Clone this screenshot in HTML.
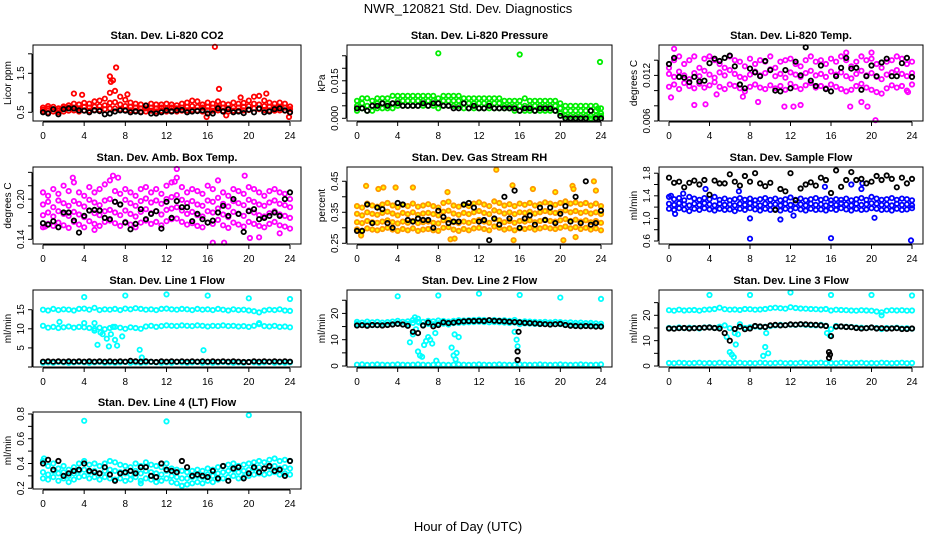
<!DOCTYPE html>
<html><head><meta charset="utf-8"><style>
body{margin:0;background:#fff}
svg{display:block;font-family:"Liberation Sans",sans-serif}
</style></head><body>
<svg id="chart" width="936" height="540" viewBox="0 0 936 540" xmlns="http://www.w3.org/2000/svg">
<rect width="936" height="540" fill="#fff"/>
<text x="468" y="13" text-anchor="middle" font-size="13">NWR_120821  Std. Dev. Diagnostics</text>
<text x="468" y="531" text-anchor="middle" font-size="13">Hour of Day (UTC)</text>
</svg>
<script>
const H=[0,0.5,1,1.5,2,2.5,3,3.5,4,4.5,5,5.5,6,6.5,7,7.5,8,8.5,9,9.5,10,10.5,11,11.5,12,12.5,13,13.5,14,14.5,15,15.5,16,16.5,17,17.5,18,18.5,19,19.5,20,20.5,21,21.5,22,22.5,23,23.5,24];
const xTicks=[0,4,8,12,16,20,24];

const co2A=[0.62,0.66,0.64,0.60,0.65,0.68,0.72,0.70,0.74,0.72,0.78,0.80,0.85,1.00,1.05,0.90,0.82,0.75,0.72,0.70,0.68,0.72,0.70,0.70,0.72,0.70,0.68,0.72,0.75,0.80,0.78,0.70,0.75,0.72,0.78,0.72,0.70,0.75,0.72,0.74,0.80,0.90,0.92,0.80,0.75,0.72,0.75,0.72,0.65];
const co2B=[0.57,0.60,0.58,0.55,0.60,0.62,0.62,0.60,0.64,0.62,0.65,0.66,0.68,0.74,0.76,0.70,0.66,0.64,0.62,0.60,0.60,0.62,0.60,0.62,0.60,0.62,0.60,0.62,0.64,0.66,0.64,0.62,0.64,0.62,0.64,0.62,0.60,0.62,0.62,0.64,0.66,0.72,0.70,0.66,0.64,0.62,0.64,0.62,0.58];
const co2C=[0.52,0.50,0.52,0.50,0.52,0.54,0.55,0.52,0.55,0.54,0.56,0.56,0.58,0.60,0.60,0.58,0.56,0.55,0.54,0.52,0.52,0.54,0.52,0.54,0.52,0.54,0.52,0.54,0.55,0.56,0.55,0.52,0.55,0.54,0.55,0.54,0.52,0.54,0.54,0.55,0.56,0.60,0.58,0.56,0.55,0.54,0.55,0.54,0.50];
const co2OutX=[3,3.8,6.5,6.6,6.8,7.1,8.2,15.9,16.7,17.1,19.2,21.7,23.9,17.8];
const co2OutY=[0.98,0.95,1.42,1.28,1.32,1.65,0.96,0.38,2.18,1.1,0.88,0.98,0.38,0.42];
const co2Blk=[0.50,0.47,0.58,0.45,0.58,0.60,0.60,0.55,0.54,0.50,0.55,0.53,0.45,0.47,0.52,0.55,0.54,0.50,0.52,0.50,0.67,0.47,0.47,0.50,0.55,0.52,0.55,0.56,0.50,0.52,0.53,0.55,0.47,0.47,0.60,0.52,0.58,0.50,0.52,0.48,0.57,0.50,0.60,0.50,0.52,0.58,0.60,0.55,0.50];
const co2Ticks=[0.5,1,1.5,2], co2Labels=["0.5","","1.5",""];

const prA=[0.007,0.008,0.008,0.007,0.008,0.008,0.008,0.009,0.009,0.009,0.009,0.009,0.009,0.009,0.009,0.009,0.008,0.009,0.009,0.009,0.009,0.008,0.008,0.008,0.008,0.008,0.008,0.008,0.008,0.007,0.007,0.007,0.007,0.008,0.007,0.007,0.007,0.007,0.007,0.007,0.006,0.005,0.005,0.005,0.005,0.005,0.005,0.005,0.004];
const prB=[0.005,0.006,0.005,0.005,0.006,0.006,0.006,0.006,0.007,0.007,0.007,0.007,0.007,0.007,0.007,0.007,0.006,0.007,0.007,0.007,0.007,0.006,0.006,0.006,0.006,0.006,0.006,0.006,0.006,0.005,0.005,0.005,0.005,0.005,0.005,0.005,0.005,0.005,0.005,0.005,0.004,0.003,0.003,0.003,0.003,0.003,0.003,0.003,0.002];
const prC=[0.003,0.004,0.003,0.003,0.004,0.004,0.004,0.004,0.005,0.005,0.005,0.005,0.005,0.005,0.005,0.005,0.004,0.005,0.005,0.005,0.005,0.004,0.004,0.004,0.004,0.004,0.004,0.004,0.004,0.004,0.004,0.003,0.003,0.003,0.003,0.003,0.003,0.003,0.003,0.003,0.002,0.001,0.001,0.001,0.001,0.001,0.001,0.001,0.001];
const prOutX=[8,16,23.9,23.7,20.5,21,21.5,22,22.5,23,23.5,24];
const prOutY=[0.026,0.0255,0.0225,0.004,0,0,0,0,0,0,0,0];
const prBlk=[0.004,0.004,0.003,0.005,0.005,0.006,0.005,0.006,0.006,0.005,0.005,0.005,0.005,0.006,0.005,0.006,0.006,0.005,0.005,0.004,0.004,0.006,0.004,0.005,0.004,0.004,0.005,0.004,0.004,0.004,0.004,0.004,0.003,0.004,0.004,0.003,0.004,0.004,0.004,0.003,0.001,0,0,0,0,0,0.003,0,0];
const prTicks=[0,0.005,0.01,0.015,0.02,0.025], prLabels=["0.000","","","0.015","",""];

const tmA=[0.0130,0.0140,0.0145,0.0135,0.0140,0.0145,0.0130,0.0142,0.0145,0.0140,0.0135,0.0130,0.0145,0.0140,0.0138,0.0132,0.0142,0.0135,0.0140,0.0138,0.0145,0.0130,0.0138,0.0140,0.0142,0.0135,0.0132,0.0140,0.0145,0.0138,0.0140,0.0135,0.0142,0.0138,0.0145,0.0140,0.0132,0.0138,0.0145,0.0140,0.0142,0.0135,0.0130,0.0138,0.0140,0.0145,0.0142,0.0135,0.0138];
const tmB=[0.0122,0.0118,0.0125,0.0120,0.0115,0.0123,0.0119,0.0126,0.0121,0.0117,0.0124,0.0120,0.0127,0.0122,0.0118,0.0116,0.0121,0.0125,0.0120,0.0123,0.0128,0.0119,0.0122,0.0117,0.0124,0.0121,0.0118,0.0123,0.0126,0.0120,0.0122,0.0118,0.0125,0.0121,0.0124,0.0119,0.0116,0.0122,0.0126,0.0120,0.0123,0.0118,0.0115,0.0121,0.0124,0.0127,0.0122,0.0119,0.0123];
const tmC=[0.0105,0.0108,0.0102,0.0110,0.0106,0.0103,0.0109,0.0104,0.0107,0.0111,0.0105,0.0102,0.0108,0.0106,0.0103,0.0099,0.0105,0.0108,0.0104,0.0102,0.0107,0.0103,0.0106,0.0101,0.0109,0.0105,0.0102,0.0107,0.0110,0.0104,0.0106,0.0103,0.0108,0.0105,0.0102,0.0099,0.0101,0.0106,0.0109,0.0104,0.0101,0.0098,0.0096,0.0103,0.0107,0.0104,0.0106,0.0100,0.0108];
const tmOutX=[0.2,0.5,2.5,3.6,4.7,7.3,8.8,11.4,12.3,13,17.5,17.9,19,19.6,20,20.4,23.6];
const tmOutY=[0.0091,0.0155,0.0081,0.0082,0.0095,0.0092,0.0085,0.0079,0.0079,0.0081,0.015,0.0079,0.0085,0.0079,0.015,0.0061,0.0098];
const tmBlk=[0.0135,0.0143,0.0118,0.0117,0.0111,0.0118,0.0112,0.0113,0.0136,0.0142,0.0139,0.0143,0.0146,0.0132,0.0108,0.0103,0.0129,0.0124,0.0119,0.0139,0.0127,0.0100,0.0099,0.0127,0.0103,0.0138,0.0120,0.0157,0.0113,0.0106,0.0133,0.0102,0.0099,0.0119,0.0130,0.0143,0.0129,0.0130,0.0101,0.0119,0.0133,0.0119,0.0137,0.0142,0.0119,0.0119,0.0136,0.0143,0.0118];
const tmTicks=[0.006,0.008,0.010,0.012,0.014], tmLabels=["0.006","","","0.012",""];

const ambA=[0.210,0.205,0.215,0.208,0.220,0.212,0.225,0.210,0.205,0.218,0.210,0.215,0.222,0.228,0.212,0.208,0.215,0.210,0.205,0.215,0.218,0.210,0.215,0.208,0.220,0.225,0.232,0.218,0.210,0.215,0.212,0.208,0.220,0.215,0.228,0.210,0.205,0.215,0.212,0.208,0.218,0.215,0.210,0.205,0.212,0.215,0.210,0.208,0.200];
const ambB=[0.192,0.196,0.188,0.198,0.194,0.190,0.197,0.193,0.189,0.199,0.195,0.191,0.198,0.200,0.196,0.192,0.199,0.194,0.190,0.197,0.201,0.195,0.198,0.193,0.200,0.203,0.206,0.199,0.194,0.197,0.192,0.190,0.198,0.196,0.202,0.193,0.189,0.197,0.194,0.191,0.199,0.196,0.192,0.190,0.195,0.198,0.193,0.191,0.188];
const ambC=[0.176,0.180,0.174,0.182,0.178,0.175,0.181,0.177,0.173,0.183,0.179,0.176,0.182,0.184,0.180,0.176,0.183,0.178,0.174,0.181,0.185,0.179,0.182,0.177,0.184,0.186,0.188,0.183,0.178,0.181,0.176,0.174,0.182,0.180,0.186,0.177,0.173,0.181,0.178,0.175,0.183,0.180,0.176,0.174,0.179,0.182,0.177,0.175,0.172];
const ambD=[0.158,0.163,0.160,0.165,0.161,0.157,0.166,0.162,0.158,0.167,0.163,0.160,0.166,0.168,0.164,0.160,0.166,0.162,0.158,0.165,0.168,0.163,0.166,0.161,0.167,0.170,0.171,0.166,0.162,0.164,0.160,0.158,0.165,0.163,0.169,0.161,0.157,0.165,0.162,0.159,0.166,0.163,0.160,0.158,0.163,0.166,0.161,0.159,0.156];
const ambOutX=[2.9,6.8,7.3,13,16.5,17.6,19.6,20.1,21,12.8,5,23,0.2];
const ambOutY=[0.232,0.235,0.232,0.245,0.135,0.135,0.235,0.142,0.143,0.226,0.154,0.149,0.159];
const ambBlk=[0.164,0.162,0.167,0.158,0.180,0.180,0.168,0.150,0.175,0.183,0.184,0.183,0.172,0.170,0.196,0.192,0.165,0.155,0.163,0.185,0.170,0.178,0.182,0.156,0.196,0.172,0.197,0.188,0.188,0.167,0.178,0.170,0.165,0.168,0.180,0.190,0.175,0.200,0.178,0.151,0.182,0.185,0.170,0.172,0.175,0.180,0.175,0.200,0.210];
const ambTicks=[0.14,0.16,0.18,0.20,0.22,0.24], ambLabels=["0.14","","","0.20","",""];

const rhA=[0.370,0.365,0.378,0.372,0.368,0.375,0.380,0.372,0.366,0.374,0.370,0.378,0.368,0.372,0.376,0.370,0.365,0.380,0.384,0.372,0.368,0.374,0.370,0.378,0.382,0.375,0.370,0.385,0.380,0.372,0.376,0.370,0.378,0.374,0.380,0.372,0.376,0.382,0.378,0.374,0.380,0.385,0.378,0.382,0.376,0.380,0.372,0.378,0.370];
const rhB=[0.345,0.340,0.350,0.345,0.342,0.348,0.352,0.346,0.340,0.348,0.344,0.350,0.342,0.346,0.348,0.344,0.340,0.352,0.355,0.346,0.342,0.348,0.344,0.350,0.354,0.348,0.344,0.356,0.352,0.346,0.350,0.344,0.350,0.348,0.352,0.346,0.350,0.354,0.350,0.348,0.352,0.356,0.350,0.354,0.348,0.352,0.346,0.350,0.344];
const rhC=[0.318,0.315,0.322,0.318,0.316,0.320,0.324,0.318,0.314,0.320,0.316,0.322,0.315,0.318,0.320,0.316,0.314,0.324,0.326,0.318,0.315,0.320,0.316,0.322,0.325,0.320,0.316,0.328,0.324,0.318,0.322,0.316,0.322,0.320,0.324,0.318,0.322,0.326,0.322,0.320,0.324,0.328,0.322,0.326,0.320,0.324,0.318,0.322,0.316];
const rhD=[0.295,0.290,0.298,0.294,0.292,0.296,0.300,0.294,0.290,0.296,0.292,0.298,0.290,0.294,0.296,0.292,0.290,0.300,0.302,0.294,0.290,0.296,0.292,0.298,0.300,0.296,0.292,0.304,0.300,0.294,0.298,0.292,0.298,0.296,0.300,0.294,0.298,0.302,0.298,0.296,0.300,0.304,0.298,0.302,0.296,0.300,0.294,0.298,0.292];
const rhOutX=[0.9,2.1,2.6,3.8,5.5,8.9,9.2,13.7,15.3,15.4,17.3,19.5,20.3,21.2,21.5,23.3,23.5,0.4,9.6,21.3];
const rhOutY=[0.435,0.425,0.43,0.43,0.43,0.415,0.263,0.487,0.437,0.26,0.425,0.415,0.26,0.435,0.27,0.45,0.42,0.275,0.265,0.425];
const rhBlk=[0.290,0.290,0.375,0.315,0.365,0.360,0.315,0.300,0.380,0.375,0.325,0.320,0.330,0.325,0.325,0.300,0.355,0.335,0.315,0.320,0.320,0.375,0.380,0.365,0.320,0.325,0.260,0.330,0.310,0.400,0.330,0.420,0.300,0.330,0.340,0.310,0.365,0.325,0.365,0.315,0.345,0.370,0.320,0.400,0.315,0.450,0.310,0.315,0.355];
const rhTicks=[0.25,0.30,0.35,0.40,0.45], rhLabels=["0.25","","0.35","","0.45"];

const sfA=[1.38,1.34,1.36,1.32,1.38,1.35,1.33,1.36,1.34,1.38,1.33,1.35,1.32,1.34,1.36,1.33,1.35,1.32,1.34,1.36,1.33,1.35,1.32,1.34,1.37,1.33,1.35,1.32,1.34,1.36,1.33,1.35,1.32,1.34,1.33,1.35,1.32,1.34,1.36,1.33,1.38,1.35,1.33,1.34,1.36,1.33,1.35,1.34,1.32];
const sfB=[1.26,1.24,1.27,1.25,1.23,1.26,1.24,1.27,1.25,1.23,1.26,1.24,1.25,1.23,1.26,1.24,1.27,1.25,1.23,1.26,1.24,1.25,1.23,1.26,1.24,1.27,1.25,1.23,1.26,1.24,1.25,1.23,1.26,1.24,1.27,1.25,1.23,1.26,1.24,1.25,1.27,1.26,1.24,1.25,1.23,1.26,1.24,1.25,1.23];
const sfC=[1.17,1.15,1.18,1.16,1.13,1.17,1.15,1.18,1.16,1.14,1.17,1.15,1.16,1.13,1.17,1.15,1.18,1.16,1.14,1.17,1.15,1.16,1.14,1.17,1.15,1.18,1.16,1.14,1.17,1.15,1.16,1.14,1.17,1.15,1.18,1.16,1.14,1.17,1.15,1.16,1.18,1.17,1.15,1.16,1.14,1.17,1.15,1.16,1.18];
const sfOutX=[0.6,3.6,6.9,8,8,11,12.3,15.4,16,18,19,19.1,20.3,23.9,1.4,0.2];
const sfOutY=[1.08,1.52,1.48,1.0,0.64,0.98,1.05,1.56,0.65,1.6,1.52,1.62,1.01,0.61,1.44,1.4];
const sfBlk=[1.72,1.63,1.65,1.55,1.63,1.67,1.60,1.68,1.42,1.67,1.62,1.62,1.78,1.65,1.58,1.75,1.65,1.80,1.62,1.57,1.63,1.15,1.52,1.48,1.80,1.32,1.53,1.60,1.64,1.58,1.72,1.68,1.45,1.85,1.56,1.68,1.82,1.68,1.70,1.62,1.65,1.75,1.68,1.76,1.70,1.55,1.72,1.62,1.70];
const sfTicks=[0.6,0.8,1.0,1.2,1.4,1.6,1.8], sfLabels=["0.6","","1.0","","1.4","","1.8"];

const l1A=[15.0,14.8,15.2,14.9,15.1,15.0,14.8,15.2,15.3,15.0,15.5,14.9,15.1,15.0,15.2,14.9,15.3,15.1,15.4,15.2,15.0,15.1,14.9,15.2,15.3,15.1,15.0,15.2,15.1,14.9,15.2,15.0,15.1,14.9,15.2,15.0,14.8,15.1,14.9,15.0,14.8,14.6,14.3,14.8,15.0,14.9,15.1,14.8,14.7];
const l1B=[10.8,10.3,10.5,10.2,10.4,10.6,10.3,10.5,10.4,10.2,10.0,10.3,9.9,10.2,10.5,10.3,10.0,10.4,10.2,10.0,10.6,10.8,10.5,10.7,10.9,10.8,10.7,10.9,10.8,10.7,10.9,10.8,10.6,10.8,10.7,10.9,10.7,10.8,10.6,10.7,10.5,10.8,11.2,10.7,10.6,10.8,10.5,10.6,10.4];
const l1C=[1.1,1.2,1.1,1.3,1.2,1.1,1.2,1.3,1.2,1.1,1.2,1.3,1.1,1.2,1.1,1.2,1.3,1.1,1.2,1.1,1.2,1.3,1.2,1.1,1.2,1.1,1.3,1.2,1.1,1.2,1.3,1.1,1.2,1.1,1.2,1.3,1.2,1.1,1.2,1.1,1.3,1.2,1.1,1.2,1.3,1.1,1.2,1.1,1.2];
const l1OutX=[4,8,12,16,20,24,1.6,5,5.3,5.6,5.8,6.2,6.4,6.6,7,7.2,7.7,6.8,9.4,9.6,15.6,4,5,21];
const l1OutY=[18.3,18.7,19,18.7,18,17.8,11.8,11.5,5.8,9,8.6,7.4,5.4,8.6,7.1,5.6,8,10.5,4.5,2.5,4.4,11.5,9.5,11.5];
const l1Blk=[1.4,1.5,1.4,1.5,1.4,1.5,1.4,1.5,1.4,1.5,1.4,1.5,1.4,1.5,1.4,1.5,1.4,1.6,1.5,1.4,1.5,1.4,1.3,1.5,1.4,1.5,1.4,1.5,1.4,1.5,1.4,1.5,1.4,1.5,1.4,1.5,1.4,1.5,1.4,1.3,1.3,1.5,1.4,1.5,1.4,1.5,1.4,1.5,1.4];
const l1Ticks=[0,5,10,15], l1Labels=["","5","10","15"];

const l2A=[16.8,16.5,16.9,16.6,16.8,16.5,16.7,16.9,17.2,16.8,17.0,17.5,18.0,16.8,17.2,17.0,17.3,17.1,16.9,17.2,17.4,17.3,17.4,17.5,17.6,17.5,17.4,17.5,17.3,17.4,17.2,17.5,16.8,17.0,16.9,16.8,16.7,16.8,16.6,16.8,16.7,16.5,16.6,16.4,16.5,16.3,16.4,16.2,16.1];
const l2B=[16.0,15.6,15.8,15.5,15.7,15.6,15.8,15.9,16.2,15.8,16.0,16.4,16.8,15.6,16.0,15.9,16.2,16.1,15.8,16.3,16.4,16.5,16.6,16.7,16.8,16.7,16.6,16.7,16.6,16.5,16.4,16.5,15.9,16.2,16.1,16.0,15.9,16.0,15.8,15.9,15.9,15.6,15.7,15.5,15.6,15.4,15.5,15.3,15.2];
const l2C=[0.5,0.6,0.4,0.5,0.6,0.5,0.4,0.5,0.6,0.5,0.4,0.5,0.6,0.5,0.4,0.5,0.6,0.5,0.4,0.5,0.6,0.5,0.4,0.5,0.6,0.5,0.4,0.5,0.6,0.5,0.4,0.5,0.6,0.5,0.4,0.5,0.6,0.5,0.4,0.5,0.6,0.5,0.4,0.5,0.6,0.5,0.4,0.5,0.6];
const l2OutX=[4,8,12,16,20,24,5.2,5.5,5.8,6,6.2,6.4,6.6,6.8,7,7.2,7.4,7.7,9.3,9.5,9.6,9.7,9.8,10,15.5,15.7,15.8,5.7,6.1,7.8];
const l2OutY=[26.5,26.8,27.5,27,26,25.5,9,12,14,5.5,4,3.5,8,9.5,11,10,8.5,12.5,7,4,12,2.5,5,11,13,10,7.5,18.5,16.5,2];
const l2Blk=[15.4,15.5,15.3,15.6,15.5,15.4,15.6,15.8,16.0,15.8,15.3,13.0,12.5,15.4,16.5,15.1,15.6,16.6,16.3,16.5,16.8,17.0,17.1,17.1,17.2,17.1,17.4,17.2,17.1,17.0,16.8,16.7,16.6,16.4,16.3,16.2,16.0,15.9,15.8,15.9,16.0,15.6,15.3,15.2,15.1,15.2,15.1,15.0,15.0];
const l2BlkOutX=[15.8,15.8,15.9], l2BlkOutY=[2.3,5.5,13.0];
const l2Ticks=[0,5,10,15,20,25], l2Labels=["0","","10","","20",""];

const l3A=[22.0,21.8,22.2,21.9,22.0,22.1,21.8,22.2,22.3,22.5,23.0,22.4,22.2,22.3,22.1,22.5,22.4,22.2,22.3,22.5,22.8,23.0,22.8,22.6,23.2,22.9,22.7,22.6,22.5,22.4,22.3,22.5,21.9,22.2,22.1,22.0,21.9,21.8,22.0,21.9,21.8,21.5,21.2,21.8,22.0,21.9,22.0,21.8,21.9];
const l3B=[15.0,14.8,15.2,14.9,15.1,15.0,14.8,15.2,15.3,15.0,15.5,16.0,14.9,13.0,16.5,15.0,15.3,15.6,15.4,15.5,15.8,16.0,16.2,16.1,16.3,16.2,16.4,16.2,16.1,16.0,16.2,15.9,14.5,15.8,15.6,15.5,15.4,15.2,15.1,15.0,15.2,15.0,14.6,15.0,14.9,15.1,14.8,14.9,14.7];
const l3C=[1.2,1.1,1.3,1.2,1.1,1.2,1.3,1.1,1.2,1.1,1.3,1.2,1.1,1.2,1.3,1.1,1.2,1.1,1.3,1.2,1.1,1.2,1.3,1.1,1.2,1.1,1.3,1.2,1.1,1.2,1.3,1.1,1.2,1.1,1.3,1.2,1.1,1.2,1.3,1.1,1.2,1.1,1.3,1.2,1.1,1.2,1.3,1.1,1.2];
const l3OutX=[4,8,12,16,20,24,5.7,6,6.2,6.4,6.6,6.8,9.3,9.5,9.6,9.8,15.6,15.9,21];
const l3OutY=[28,28,29,28,28,27.8,11.5,5.5,4.5,3.5,8.5,12.5,4,7.5,13,5,13,12,20];
const l3Blk=[14.8,14.7,14.9,15.0,14.8,14.9,15.0,15.1,15.2,15.0,14.8,13.0,10.0,14.6,15.5,14.5,14.8,15.8,15.6,15.4,16.0,16.2,16.0,16.1,16.4,16.3,16.5,16.4,16.3,16.2,16.0,15.8,11.8,15.5,15.6,15.4,15.3,15.0,14.8,14.9,15.2,14.8,14.9,14.7,14.8,14.9,14.6,14.6,14.8];
const l3BlkOutX=[15.8,15.8,15.9], l3BlkOutY=[3.2,5.5,4.5];
const l3Ticks=[0,5,10,15,20,25], l3Labels=["0","","10","","20",""];

const l4A=[0.42,0.38,0.40,0.36,0.38,0.35,0.37,0.40,0.42,0.39,0.40,0.38,0.40,0.42,0.41,0.39,0.38,0.37,0.40,0.38,0.41,0.39,0.38,0.37,0.40,0.36,0.35,0.34,0.33,0.34,0.35,0.34,0.36,0.35,0.37,0.38,0.39,0.40,0.38,0.39,0.40,0.41,0.42,0.41,0.43,0.44,0.42,0.43,0.42];
const l4B=[0.33,0.31,0.34,0.32,0.33,0.30,0.32,0.34,0.35,0.33,0.34,0.32,0.34,0.35,0.34,0.33,0.32,0.31,0.34,0.32,0.34,0.33,0.32,0.31,0.34,0.30,0.29,0.28,0.28,0.29,0.30,0.29,0.31,0.30,0.32,0.33,0.34,0.35,0.33,0.34,0.35,0.36,0.37,0.36,0.37,0.38,0.36,0.37,0.36];
const l4C=[0.28,0.27,0.29,0.26,0.28,0.25,0.27,0.29,0.30,0.28,0.29,0.27,0.29,0.28,0.27,0.28,0.26,0.27,0.29,0.26,0.28,0.27,0.25,0.26,0.28,0.25,0.24,0.22,0.23,0.24,0.25,0.24,0.26,0.25,0.27,0.28,0.29,0.30,0.28,0.29,0.30,0.31,0.32,0.31,0.32,0.33,0.31,0.32,0.31];
const l4OutX=[4,12,20,0.1,13.5,9.5];
const l4OutY=[0.745,0.74,0.79,0.44,0.22,0.24];
const l4Blk=[0.40,0.43,0.35,0.42,0.30,0.32,0.34,0.35,0.40,0.34,0.33,0.32,0.37,0.31,0.26,0.32,0.33,0.34,0.32,0.37,0.37,0.30,0.29,0.40,0.35,0.34,0.33,0.42,0.37,0.30,0.31,0.30,0.29,0.34,0.28,0.38,0.26,0.36,0.37,0.28,0.32,0.37,0.33,0.36,0.38,0.34,0.35,0.30,0.42];
const l4Ticks=[0.2,0.3,0.4,0.5,0.6,0.7,0.8], l4Labels=["0.2","","0.4","","0.6","","0.8"];

const NS="http://www.w3.org/2000/svg";
const svg=document.getElementById("chart");
const cols=[[33,301],[347,612],[659,923]];
const rows=[[45,121],[167,244],[290,367],[412,489]];
function mk(tag,attrs,parent){const e=document.createElementNS(NS,tag);for(const k in attrs)e.setAttribute(k,attrs[k]);(parent||svg).appendChild(e);return e;}

const panels=[
 {id:"co2",title:"Stan. Dev. Li-820 CO2",ylab:"Licor ppm",c:0,r:0,dom:[0.277,2.226],ticks:co2Ticks,labels:co2Labels,color:"#ff0000",cloud:[co2A,co2B,co2C],outX:co2OutX,outY:co2OutY,blk:co2Blk},
 {id:"pressure",title:"Stan. Dev. Li-820 Pressure",ylab:"kPa",c:1,r:0,dom:[-0.00108,0.0293],ticks:prTicks,labels:prLabels,color:"#00ee00",cloud:[prA,prB,prC],outX:prOutX,outY:prOutY,blk:prBlk},
 {id:"li820-temp",title:"Stan. Dev. Li-820 Temp.",ylab:"degrees C",c:2,r:0,dom:[0.006,0.016],ticks:tmTicks,labels:tmLabels,color:"#ff00ff",cloud:[tmA,tmB,tmC],outX:tmOutX,outY:tmOutY,blk:tmBlk},
 {id:"amb-box-temp",title:"Stan. Dev. Amb. Box Temp.",ylab:"degrees C",c:0,r:1,dom:[0.133,0.248],ticks:ambTicks,labels:ambLabels,color:"#ff00ff",cloud:[ambA,ambB,ambC,ambD],outX:ambOutX,outY:ambOutY,blk:ambBlk},
 {id:"gas-stream-rh",title:"Stan. Dev. Gas Stream RH",ylab:"percent",c:1,r:1,dom:[0.2477,0.496],ticks:rhTicks,labels:rhLabels,color:"#ff9900",cloud:[rhA,rhB,rhC,rhD],outX:rhOutX,outY:rhOutY,blk:rhBlk},
 {id:"sample-flow",title:"Stan. Dev. Sample Flow",ylab:"ml/min",c:2,r:1,dom:[0.547,1.91],ticks:sfTicks,labels:sfLabels,color:"#0000ff",cloud:[sfA,sfB,sfC],outX:sfOutX,outY:sfOutY,blk:sfBlk},
 {id:"line1-flow",title:"Stan. Dev. Line 1 Flow",ylab:"ml/min",c:0,r:2,dom:[0,20.16],ticks:l1Ticks,labels:l1Labels,color:"#00ffff",cloud:[l1A,l1B,l1C],outX:l1OutX,outY:l1OutY,blk:l1Blk},
 {id:"line2-flow",title:"Stan. Dev. Line 2 Flow",ylab:"ml/min",c:1,r:2,dom:[-0.38,28.9],ticks:l2Ticks,labels:l2Labels,color:"#00ffff",cloud:[l2A,l2B,l2C],outX:l2OutX,outY:l2OutY,blk:l2Blk,bOutX:l2BlkOutX,bOutY:l2BlkOutY},
 {id:"line3-flow",title:"Stan. Dev. Line 3 Flow",ylab:"ml/min",c:2,r:2,dom:[-0.39,29.98],ticks:l3Ticks,labels:l3Labels,color:"#00ffff",cloud:[l3A,l3B,l3C],outX:l3OutX,outY:l3OutY,blk:l3Blk,bOutX:l3BlkOutX,bOutY:l3BlkOutY},
 {id:"line4-flow",title:"Stan. Dev. Line 4 (LT) Flow",ylab:"ml/min",c:0,r:3,dom:[0.194,0.816],ticks:l4Ticks,labels:l4Labels,color:"#00ffff",cloud:[l4A,l4B,l4C],outX:l4OutX,outY:l4OutY,blk:l4Blk}
];

function pt(g,x,y,stroke,fill,name){
  const c=mk("circle",{cx:x.toFixed(1),cy:y.toFixed(1),r:2.2,fill:fill,stroke:stroke,"stroke-width":1.8},g);
  
  
}

panels.forEach(p=>{
  const [L,R]=cols[p.c],[T,B]=rows[p.r];
  const g=mk("g",{});
  
  
  const x0=L+10,x1=R-11;
  const sx=v=>x0+(x1-x0)*v/24;
  const sy=v=>B-(B-T)*(v-p.dom[0])/(p.dom[1]-p.dom[0]);
  const t=mk("text",{x:(L+R)/2,y:T-6,"text-anchor":"middle","font-size":11,"font-weight":"bold"},g);
  t.textContent=p.title;
  
  
  const yl=mk("text",{x:0,y:0,"text-anchor":"middle","font-size":10,transform:`translate(${L-22},${(T+B)/2}) rotate(-90)`},g);
  yl.textContent=p.ylab;
  
  
  const fill=p.id==="gas-stream-rh"?"#ffff00":"none";
  p.cloud.forEach(arr=>{for(let i=0;i<Math.min(H.length,arr.length);i++)pt(g,sx(H[i]),sy(arr[i]),p.color,fill,'data-point');});
  for(let i=0;i<p.outX.length;i++)pt(g,sx(p.outX[i]),sy(p.outY[i]),p.color,fill,'outlier-point');
  for(let i=0;i<Math.min(H.length,p.blk.length);i++)pt(g,sx(H[i]),sy(p.blk[i]),"#000","none",'black-point');
  if(p.bOutX)for(let i=0;i<p.bOutX.length;i++)pt(g,sx(p.bOutX[i]),sy(p.bOutY[i]),"#000","none",'black-point');
  const box=mk("rect",{x:L,y:T,width:R-L,height:B-T,fill:"none",stroke:"#000","stroke-width":1},g);
  
  
  mk("line",{x1:sx(0),x2:sx(24),y1:B+1,y2:B+1,stroke:"#000"},g);
  xTicks.forEach(v=>{
    mk("line",{x1:sx(v),x2:sx(v),y1:B+1,y2:B+5,stroke:"#000"},g);
    const tl=mk("text",{x:sx(v),y:B+18,"text-anchor":"middle","font-size":10},g);
    tl.textContent=String(v);
    
    
  });
  const ty=p.ticks.map(sy);
  mk("line",{x1:L-1,x2:L-1,y1:Math.min(...ty),y2:Math.max(...ty),stroke:"#000"},g);
  p.ticks.forEach((v,i)=>{
    const y=sy(v);
    mk("line",{x1:L-5,x2:L-1,y1:y,y2:y,stroke:"#000"},g);
    if(p.labels[i]){
      const tl=mk("text",{x:0,y:0,"text-anchor":"middle","font-size":10,transform:`translate(${L-9},${y}) rotate(-90)`},g);
      tl.textContent=p.labels[i];
      
      
    }
  });
});
</script>
</body></html>
